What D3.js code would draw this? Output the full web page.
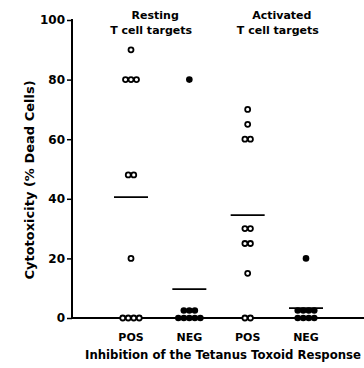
<!DOCTYPE html>
<html><head><meta charset="utf-8">
<script src="https://cdn.jsdelivr.net/npm/d3@7"></script>
<style>body{margin:0;background:#fff}svg{display:block}text{font-family:"DejaVu Sans",sans-serif;font-weight:bold;fill:#000}</style>
</head><body><svg id="c" width="364" height="368"></svg>
<script>
const categories = ["POS", "NEG", "POS", "NEG"];
const groupTitles = [["Resting", "T cell targets"], ["Activated", "T cell targets"]];
const restingPos = [90, 80, 80, 80, 48, 48, 20, 0, 0, 0, 0];
const restingNeg = [80, 2.5, 2.5, 2.5, 0, 0, 0, 0, 0];
const activatedPos = [70, 65, 60, 60, 30, 30, 25, 25, 15, 0, 0];
const activatedNeg = [20, 2.5, 2.5, 2.5, 2.5, 0, 0, 0, 0];
const filled = [false, true, false, true];
const yTicks = [0, 20, 40, 60, 80, 100];
const yLabel = "Cytotoxicity (% Dead Cells)";
const xLabel = "Inhibition of the Tetanus Toxoid Response";

const series = [restingPos, restingNeg, activatedPos, activatedNeg];
const svg = d3.select("#c");
const y = d3.scaleLinear().domain([0, 100]).range([318, 20]);
const x = d3.scalePoint().domain(d3.range(4)).range([131, 306]);
const FONT = '"DejaVu Sans",sans-serif';

// y axis
const yAxis = d3.axisLeft(y).tickValues(yTicks).tickSize(5).tickPadding(2);
const ga = svg.append("g").attr("transform", "translate(72,0)").call(yAxis);
ga.select(".domain").remove();
ga.selectAll("line").attr("stroke", "#000").attr("stroke-width", 1.5);
ga.selectAll("text").style("font-size", "12px").style("font-family", FONT).style("font-weight", "bold").attr("fill", "#000");
svg.append("line").attr("x1", 72).attr("x2", 72).attr("y1", y(100) - 1).attr("y2", y(0)).attr("stroke", "#000").attr("stroke-width", 2);
// x axis baseline
svg.append("line").attr("x1", 71).attr("x2", 364).attr("y1", y(0)).attr("y2", y(0)).attr("stroke", "#000").attr("stroke-width", 2);

// dots
series.forEach((vals, gi) => {
  const groups = d3.group(vals, v => v);
  groups.forEach((arr, v) => {
    const n = arr.length;
    arr.forEach((_, i) => {
      const dx = (i - (n - 1) / 2) * 5.5;
      svg.append("circle")
        .attr("cx", x(gi) + dx).attr("cy", y(v)).attr("r", filled[gi] ? 3.3 : 2.5)
        .attr("fill", filled[gi] ? "#000" : "#fff")
        .attr("stroke", "#000").attr("stroke-width", filled[gi] ? 0 : 1.8);
    });
  });
  const m = d3.mean(vals);
  svg.append("line").attr("x1", x(gi) - 17).attr("x2", x(gi) + 17)
    .attr("y1", y(m)).attr("y2", y(m)).attr("stroke", "#000").attr("stroke-width", 1.8);
});

// category labels
categories.forEach((c, i) => {
  svg.append("text").attr("x", x(i)).attr("y", 341).attr("text-anchor", "middle")
    .style("font-size", "11px").text(c);
});
svg.append("text").attr("x", 223).attr("y", 359).attr("text-anchor", "middle")
  .style("font-size", "11.7px").text(xLabel);

// group titles
[ (x(0) + x(1)) / 2 - 9, (x(2) + x(3)) / 2 + 1 ].forEach((cx, i) => {
  svg.append("text").attr("x", cx + 4).attr("y", 19).attr("text-anchor", "middle").style("font-size", "11px").text(groupTitles[i][0]);
  svg.append("text").attr("x", cx).attr("y", 34).attr("text-anchor", "middle").style("font-size", "11px").text(groupTitles[i][1]);
});

// y label
svg.append("text").attr("transform", "translate(34,180) rotate(-90)").attr("text-anchor", "middle")
  .style("font-size", "13px").text(yLabel);
</script></body></html>
